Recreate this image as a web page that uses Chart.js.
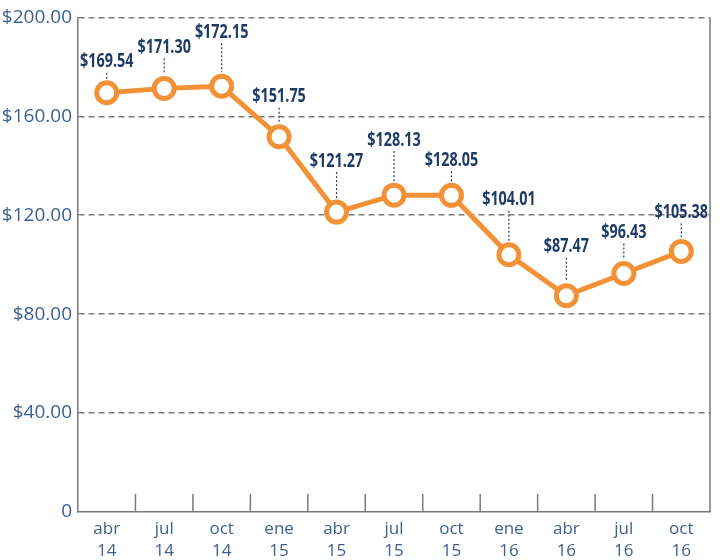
<!DOCTYPE html>
<html>
<head>
<meta charset="utf-8">
<script src="https://cdn.jsdelivr.net/npm/chart.js@4"></script>
<style>
  html, body { margin: 0; padding: 0; background: #fff; }
  #wrap { width: 725px; height: 560px; }
</style>
</head>
<body>
<div id="wrap"><canvas id="LineChart"></canvas></div>
<script>
// datos
var months = ["abr", "jul", "oct", "ene", "abr", "jul", "oct", "ene", "abr", "jul", "oct"];
var years = ["14", "14", "14", "15", "15", "15", "15", "16", "16", "16", "16"];
var prices = [169.54, 171.30, 172.15, 151.75, 121.27, 128.13, 128.05, 104.01, 87.47, 96.43, 105.38];
var yTicks = [0, 40, 80, 120, 160, 200];

// altura de cada etiqueta sobre su punto (px)
var labelLift = [31, 41, 54, 40, 51, 55, 35, 55, 49, 41, 39];

var orange = "#F29135";
var axisBlue = "#3E5F8F";
var labelNavy = "#1E3A66";
var gray = "#7A7A7A";

var labels = months.map(function (m, i) { return [m, years[i]]; });

// marcas cortas del eje x (hacia arriba) + borde derecho
var frame = {
  id: "frame",
  afterDraw: function (chart) {
    var c = chart.ctx, x = chart.scales.x, a = chart.chartArea;
    c.save();
    c.strokeStyle = gray;
    c.lineWidth = 1.5;
    c.beginPath();
    for (var i = 1; i < labels.length; i++) {
      var px = (x.getPixelForValue(i - 1) + x.getPixelForValue(i)) / 2;
      c.moveTo(px, a.bottom);
      c.lineTo(px, a.bottom - 18);
    }
    c.moveTo(a.right, a.top);
    c.lineTo(a.right, a.bottom);
    c.stroke();
    c.restore();
  }
};

// etiquetas de valor con línea punteada (texto estrecho)
var valueLabels = {
  id: "valueLabels",
  afterDatasetsDraw: function (chart) {
    var c = chart.ctx, pts = chart.getDatasetMeta(0).data;
    var squeeze = 0.72;
    c.save();
    pts.forEach(function (p, i) {
      var ly = p.y - labelLift[i];
      c.strokeStyle = labelNavy;
      c.lineWidth = 1.2;
      c.setLineDash([2, 2]);
      c.beginPath();
      c.moveTo(p.x, ly + 11);
      c.lineTo(p.x, p.y - 14);
      c.stroke();
      c.setLineDash([]);
      c.save();
      c.translate(p.x, ly);
      c.scale(squeeze, 1);
      c.fillStyle = labelNavy;
      c.font = "bold 20px 'Open Sans', sans-serif";
      c.textAlign = "center";
      c.textBaseline = "middle";
      c.fillText("$" + prices[i].toFixed(2), 0, 0);
      c.restore();
    });
    c.restore();
  }
};

new Chart(document.getElementById("LineChart"), {
  type: "line",
  data: {
    labels: labels,
    datasets: [{
      data: prices,
      borderColor: orange,
      borderWidth: 5,
      pointRadius: 10,
      pointHoverRadius: 10,
      pointBorderWidth: 5,
      pointBackgroundColor: "#fff",
      pointBorderColor: orange,
      tension: 0
    }]
  },
  options: {
    responsive: true,
    maintainAspectRatio: false,
    animation: false,
    layout: { padding: { left: 0, right: 2, top: 10, bottom: 0 } },
    plugins: { legend: { display: false }, tooltip: { enabled: false } },
    scales: {
      x: {
        offset: true,
        grid: { display: false, drawTicks: false },
        border: { display: true, color: gray, width: 1.5 },
        ticks: {
          color: axisBlue,
          font: { family: "'Open Sans', sans-serif", size: 17, lineHeight: 1.3 },
          padding: 6,
          maxRotation: 0,
          autoSkip: false
        },
        afterFit: function (s) { s.height = 48; }
      },
      y: {
        min: 0,
        max: 200,
        afterBuildTicks: function (s) { s.ticks = yTicks.map(function (v) { return { value: v }; }); },
        grid: {
          drawTicks: false,
          lineWidth: 1.5,
          color: function (ctx) { return ctx.tick && ctx.tick.value === 0 ? "rgba(0,0,0,0)" : gray; }
        },
        border: { display: true, color: gray, width: 1.5, dash: [6, 4] },
        ticks: {
          color: axisBlue,
          font: { family: "'Open Sans', sans-serif", size: 19 },
          padding: 6,
          callback: function (v) { return v === 0 ? "0" : "$" + v.toFixed(2); }
        },
        afterFit: function (s) { s.width = 78; }
      }
    }
  },
  plugins: [frame, valueLabels]
});
</script>
</body>
</html>
